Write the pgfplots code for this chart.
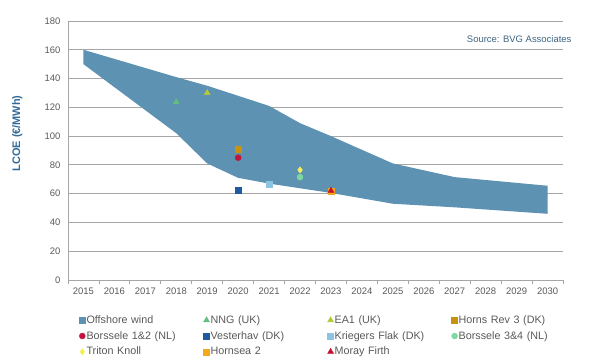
\documentclass[border=0pt]{standalone}
\usepackage{pgfplots}
\pgfplotsset{compat=1.18}
\usepackage{fontspec}
\setmainfont{Liberation Sans}
\definecolor{band}{RGB}{93,146,178}
\definecolor{txt}{RGB}{89,89,89}
\definecolor{gridc}{RGB}{166,166,166}
\definecolor{ylab}{RGB}{47,106,154}
\definecolor{src}{RGB}{60,100,130}
\definecolor{nng}{RGB}{100,190,130}
\definecolor{eaone}{RGB}{181,201,58}
\definecolor{horns}{RGB}{200,146,15}
\definecolor{bors}{RGB}{192,20,60}
\definecolor{vest}{RGB}{31,90,158}
\definecolor{krieg}{RGB}{140,196,228}
\definecolor{borsb}{RGB}{125,217,160}
\definecolor{triton}{RGB}{242,238,90}
\definecolor{hornsea}{RGB}{245,168,28}
\definecolor{moray}{RGB}{200,16,46}
\pgfplotsset{lm/.style={only marks, legend image code/.code={\draw[##1] plot[only marks] coordinates {(3bp,0bp)};}}}
\begin{document}
\begin{tikzpicture}
\path[use as bounding box] (-68bp,-83bp) rectangle (532bp,280bp);
\begin{axis}[
  at={(0,0)}, anchor=south west,
  scale only axis, width=495bp, height=259bp,
  xmin=-0.5, xmax=15.5, ymin=0, ymax=180,
  xtick={0,1,...,15},
  xticklabels={2015,2016,2017,2018,2019,2020,2021,2022,2023,2024,2025,2026,2027,2028,2029,2030},
  minor xtick={-0.5,0.5,...,15.5},
  ytick={0,20,...,180},
  major tick length=0pt, minor tick length=4bp,
  tick align=outside,
  /pgf/number format/assume math mode=true,
  ymajorgrids, grid style={gridc, line width=0.8pt},
  axis x line*=bottom, axis y line*=left,
  axis line style={gridc, line width=0.8pt},
  minor tick style={gridc, line width=0.8pt},
  tick label style={font=\fontsize{9.5}{11}\selectfont, text=txt},
  xticklabel style={yshift=-4bp},
  yticklabel style={xshift=-4bp},
  ylabel={LCOE (€/MWh)},
  ylabel style={font=\fontsize{11}{13}\selectfont\bfseries, text=ylab, at={(axis description cs:-0.085,0.566)}},
  legend columns=4,
  legend style={at={(axis description cs:0.016,-0.125)}, anchor=north west, draw=none, fill=none,
    font=\fontsize{10.8}{12}\selectfont, text=txt,
    row sep=4.5bp, column sep=0pt,
    /tikz/every even column/.append style={text width=116bp},
    nodes={inner sep=1bp}},
  legend cell align=left,
  clip=false,
]
\addplot[fill=band, draw=none, forget plot] coordinates {
 (0,160) (3,141) (4,135) (5,128) (6,121) (7,109) (8,100) (10,81) (12,71.5) (15,65.5)
 (15,46) (12,50.5) (10,53) (8,60.5) (6,67) (5,71) (4,81) (3,102) (0,150)} -- cycle;
\addlegendimage{legend image code/.code={\fill[band] (0bp,-3bp) rectangle (6bp,3bp);}}
\addlegendentry{Offshore wind}
\addplot[lm, mark=triangle*, mark size=3.5bp, color=nng] coordinates {(3,123.6)};
\addlegendentry{NNG (UK)}
\addplot[lm, mark=triangle*, mark size=3.5bp, color=eaone] coordinates {(4,130)};
\addlegendentry{EA1 (UK)}
\addplot[lm, mark=square*, mark size=3bp, color=horns] coordinates {(5,91)};
\addlegendentry{Horns Rev 3 (DK)}
\addplot[lm, mark=*, mark size=3bp, color=bors] coordinates {(5,85)};
\addlegendentry{Borssele 1\&2 (NL)}
\addplot[lm, mark=square*, mark size=3bp, color=vest] coordinates {(5,62.5)};
\addlegendentry{Vesterhav (DK)}
\addplot[lm, mark=square*, mark size=3bp, color=krieg] coordinates {(6,66.7)};
\addlegendentry{Kriegers Flak (DK)}
\addplot[lm, mark=*, mark size=3bp, color=borsb] coordinates {(7,71.5)};
\addlegendentry{Borssele 3\&4 (NL)}
\addplot[lm, mark=diamond*, mark size=3.2bp, color=triton] coordinates {(7,76.5)};
\addlegendentry{Triton Knoll}
\addplot[lm, mark=square*, mark size=3bp, color=hornsea] coordinates {(8,62)};
\addlegendentry{Hornsea 2}
\addplot[lm, mark=triangle*, mark size=3.5bp, color=moray] coordinates {(8,62)};
\addlegendentry{Moray Firth}
\node[anchor=east, text=src, font=\fontsize{9.5}{11}\selectfont, inner sep=0pt] at (axis cs:15.78,167.5) {Source: BVG Associates};
\end{axis}
\end{tikzpicture}
\end{document}
